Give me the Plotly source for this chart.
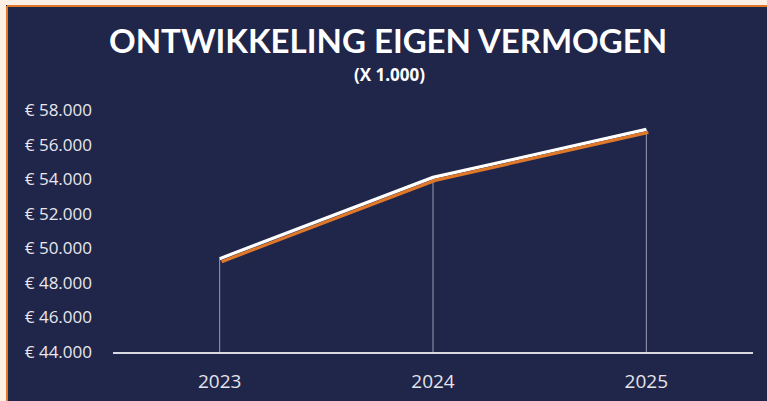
import plotly.graph_objects as go

years = ["2023", "2024", "2025"]
equity = [49400, 54100, 56880]
y_min, y_max, y_step = 44000, 58000, 2000

NAVY = "#20254A"
ORANGE = "#E0782A"
W, H = 767, 401
ml, mr, mt, mb = 113, 14, 110, 49
pw, ph = W - ml - mr, H - mt - mb

def px_x(p):
    return (p - ml) / pw

def px_y(p):
    return (H - mb - p) / ph

# shadow offsets (pixels)
sdx, sdy = 2, 3
dx = sdx * 3 / pw
dy = sdy * (y_max - y_min) / ph

fig = go.Figure()

# drop lines
fig.add_trace(go.Scatter(
    x=years, y=equity, mode="markers",
    marker=dict(size=1, opacity=0),
    error_y=dict(type="data", symmetric=False, array=[0] * len(equity),
                 arrayminus=[v - y_min for v in equity],
                 color="rgba(235,235,245,0.6)", thickness=1, width=0),
    hoverinfo="skip", showlegend=False,
))

# orange shadow (offset axes)
fig.add_trace(go.Scatter(
    x=years, y=equity, mode="lines", xaxis="x2", yaxis="y2",
    line=dict(color=ORANGE, width=3.2), hoverinfo="skip", showlegend=False,
))

# white line
fig.add_trace(go.Scatter(
    x=years, y=equity, mode="lines",
    line=dict(color="white", width=3.2), showlegend=False,
))

fig.update_layout(
    width=W, height=H, autosize=False,
    margin=dict(l=ml, r=mr, t=mt, b=mb, pad=0, autoexpand=False),
    paper_bgcolor=NAVY,
    plot_bgcolor="rgba(0,0,0,0)",
    separators=",.",
    xaxis=dict(type="category", range=[-0.5, 2.5], showgrid=False,
               showline=True, linecolor="#D9D9E0", linewidth=1.5,
               ticks="", ticklabelstandoff=11, automargin=False,
               tickfont=dict(family="Open Sans", size=19, color="#E4E4EA"),
               zeroline=False, fixedrange=True),
    yaxis=dict(range=[y_min, y_max], dtick=y_step, tick0=y_min,
               showgrid=False, zeroline=False, showline=False,
               tickprefix="€ ", tickformat=",.0f", ticks="",
               ticklabelstandoff=20, automargin=False,
               tickfont=dict(family="Open Sans", size=17, color="#E8E8EE"),
               fixedrange=True),
    xaxis2=dict(type="category", overlaying="x", range=[-0.5 - dx, 2.5 - dx],
                visible=False, fixedrange=True, automargin=False),
    yaxis2=dict(overlaying="y", range=[y_min + dy, y_max + dy],
                visible=False, fixedrange=True, automargin=False),
    shapes=[
        dict(type="rect", xref="paper", yref="paper", layer="below",
             x0=px_x(-5), x1=px_x(W + 5), y0=px_y(5), y1=px_y(-5),
             fillcolor="#FBEFE6", line=dict(width=0)),
        dict(type="rect", xref="paper", yref="paper", layer="below",
             x0=px_x(-5), x1=px_x(6), y0=px_y(H + 5), y1=px_y(-5),
             fillcolor="#FBEFE6", line=dict(width=0)),
        dict(type="line", xref="paper", yref="paper", layer="below",
             x0=px_x(7), x1=px_x(W + 5), y0=px_y(6), y1=px_y(6),
             line=dict(color=ORANGE, width=2)),
        dict(type="line", xref="paper", yref="paper", layer="below",
             x0=px_x(7), x1=px_x(7), y0=px_y(H + 5), y1=px_y(6),
             line=dict(color=ORANGE, width=2)),
    ],
    annotations=[
        dict(text="<b>ONTWIKKELING EIGEN VERMOGEN</b>", xref="paper", yref="paper",
             x=px_x(388), y=px_y(40), xanchor="center", yanchor="middle",
             showarrow=False, font=dict(family="Lato", size=33, color="white")),
        dict(text="<b>(X 1.000)</b>", xref="paper", yref="paper",
             x=px_x(389), y=px_y(74), xanchor="center", yanchor="middle",
             showarrow=False, font=dict(family="Open Sans", size=17, color="white")),
    ],
)

fig.write_html("out.html", config={"displayModeBar": False},
               post_script="document.body.style.margin='0';document.body.style.overflow='hidden';")
